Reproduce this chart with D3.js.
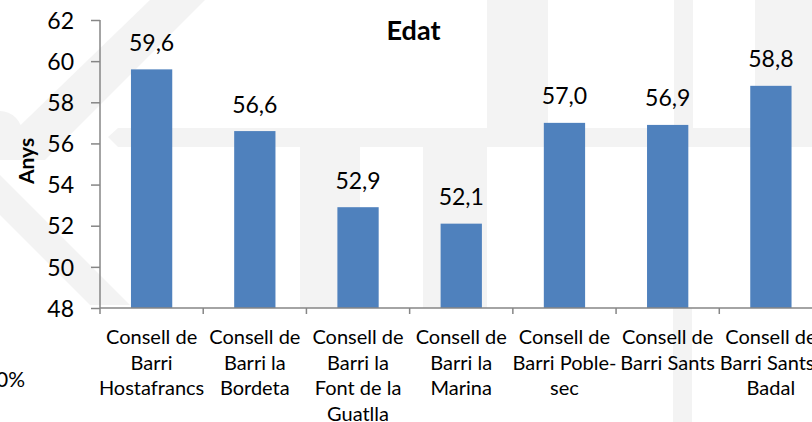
<!DOCTYPE html>
<html>
<head>
<meta charset="utf-8">
<script src="https://cdn.jsdelivr.net/npm/d3@7/dist/d3.min.js"></script>
<style>
  html, body { margin: 0; padding: 0; background: #fff; }
  svg { display: block; }
  text { font-family: Lato, "Open Sans", sans-serif; fill: #000; }
</style>
</head>
<body>
<svg id="chart" width="812" height="422"></svg>
<script>
const title = "Edat";
const yTitle = "Anys";
const categories = [
  "Consell de Barri Hostafrancs",
  "Consell de Barri la Bordeta",
  "Consell de Barri la Font de la Guatlla",
  "Consell de Barri la Marina",
  "Consell de Barri Poble-sec",
  "Consell de Barri Sants",
  "Consell de Barri Sants-Badal"
];
// how the category labels are broken into lines in the reference
const categoryLines = [
  ["Consell de", "Barri", "Hostafrancs"],
  ["Consell de", "Barri la", "Bordeta"],
  ["Consell de", "Barri la", "Font de la", "Guatlla"],
  ["Consell de", "Barri la", "Marina"],
  ["Consell de", "Barri Poble-", "sec"],
  ["Consell de", "Barri Sants"],
  ["Consell de", "Barri Sants-", "Badal"]
];
const values = [59.6, 56.6, 52.9, 52.1, 57.0, 56.9, 58.8];
const yTicks = [48, 50, 52, 54, 56, 58, 60, 62];
const strayText = "0%";

const svg = d3.select("#chart");
const m = { left: 100, top: 20, bottom: 308, right: 822.5 };

// faint watermark in the background
const wm = svg.append("g").attr("fill", "#f3f3f3");
const wmShapes = [
  [[150,0],[205,0],[45,160],[0,160],[0,145]],
  [[108,137],[118,128],[812,128],[812,147],[118,147]],
  [[300,147],[360,147],[360,308],[300,308]],
  [[423,147],[487,147],[487,308],[423,308]],
  [[487,0],[548,0],[548,128],[487,128]],
  [[674,0],[693,0],[693,128],[674,128]],
  [[755,0],[812,0],[812,128],[755,128]],
  [[673,308],[692,308],[692,422],[673,422]],
  [[0,175],[0,215],[90,305],[130,305]]
];
wmShapes.forEach(p => wm.append("polygon").attr("points", p.map(d => d.join(",")).join(" ")));
wm.append("circle").attr("cx", 0).attr("cy", 133).attr("r", 22);

const x = d3.scaleBand().domain(categories).range([m.left, m.right])
  .paddingInner(0.6).paddingOuter(0.3);
const y = d3.scaleLinear().domain([48, 62]).range([m.bottom, m.top]);

// bars
svg.append("g").selectAll("rect").data(values).join("rect")
  .attr("x", (d, i) => x(categories[i]))
  .attr("width", x.bandwidth())
  .attr("y", d => y(d))
  .attr("height", d => y(48) - y(d))
  .attr("fill", "#4f81bd");

// data labels
const fmt = d => d3.format(".1f")(d).replace(".", ",");
svg.append("g").selectAll("text").data(values).join("text")
  .attr("x", (d, i) => x(categories[i]) + x.bandwidth() / 2)
  .attr("y", d => y(d) - 18.5)
  .attr("text-anchor", "middle")
  .style("font-size", "23px")
  .text(fmt);

// y axis
const yAxis = svg.append("g").attr("transform", `translate(${m.left},0)`)
  .call(d3.axisLeft(y).tickValues(yTicks).tickSize(9).tickPadding(17).tickFormat(d3.format("d")));
yAxis.attr("font-family", null).attr("font-size", null);
yAxis.select(".domain").attr("stroke", "#868686").attr("stroke-width", 1.5).attr("d", `M0,${m.top}V${m.bottom}`);
yAxis.selectAll(".tick line").attr("stroke", "#868686").attr("stroke-width", 1.5);
yAxis.selectAll(".tick text").style("font-size", "23px").attr("fill", "#000").attr("dy", "0.36em");

// x axis
const xg = svg.append("g");
xg.append("line").attr("x1", m.left).attr("x2", m.right).attr("y1", m.bottom).attr("y2", m.bottom)
  .attr("stroke", "#868686").attr("stroke-width", 1.5);
const bounds = d3.range(categories.length + 1).map(i => x.range()[0] + i * x.step());
xg.selectAll("line.tk").data(bounds).join("line").attr("class", "tk")
  .attr("x1", d => d).attr("x2", d => d).attr("y1", m.bottom).attr("y2", m.bottom + 6)
  .attr("stroke", "#868686").attr("stroke-width", 1.5);

// x labels
const labelSize = 20;
const labG = svg.append("g");
categories.forEach((c, ci) => {
  const t = labG.append("text").attr("text-anchor", "middle").style("font-size", labelSize + "px");
  categoryLines[ci].forEach((l, i) => t.append("tspan")
    .attr("x", x(c) + x.bandwidth() / 2).attr("y", 344 + i * 25.5).text(l));
});

// title
svg.append("text").attr("x", 413.5).attr("y", 40).attr("text-anchor", "middle")
  .style("font-size", "27px").style("font-weight", "bold").text(title);

// y title
svg.append("text").attr("transform", `translate(34,${(m.top + m.bottom) / 2 - 3}) rotate(-90)`)
  .attr("text-anchor", "middle").style("font-size", "21px").style("font-weight", "bold").text(yTitle);

// stray text at left edge
svg.append("text").attr("x", 25).attr("y", 387).attr("text-anchor", "end")
  .style("font-size", "21px").text(strayText);
</script>
</body>
</html>
